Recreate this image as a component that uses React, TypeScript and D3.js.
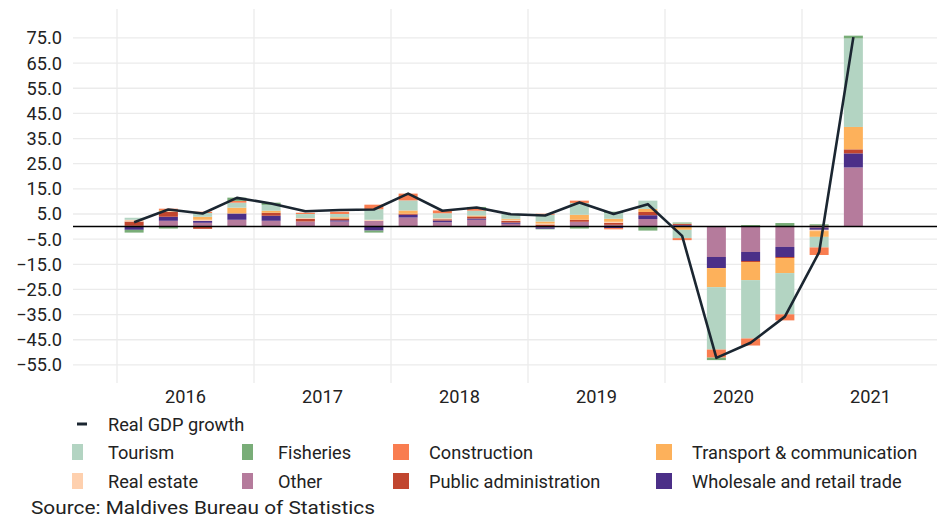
import React from "react";
import * as d3 from "d3";

const quarters = [
  "2016Q1","2016Q2","2016Q3","2016Q4",
  "2017Q1","2017Q2","2017Q3","2017Q4",
  "2018Q1","2018Q2","2018Q3","2018Q4",
  "2019Q1","2019Q2","2019Q3","2019Q4",
  "2020Q1","2020Q2","2020Q3","2020Q4",
  "2021Q1","2021Q2",
];
const years = ["2016", "2017", "2018", "2019", "2020", "2021"];

const other = [0.3, 2.3, 1.5, 2.7, 2.3, 2.0, 2.0, 2.3, 3.6, 1.7, 2.7, 1.1, -0.3, 1.9, 0.7, 3.0, 0.3, -12.1, -10.1, -8.1, -0.6, 23.5];
const wholesale = [-1.3, 1.6, 0.8, 2.5, 2.0, 0, 0.5, -1.6, 1.1, 0.7, 0.5, 0.5, -0.6, 0, -0.6, 1.5, 0.3, -4.4, -3.6, -4.0, -0.7, 5.6];
const publicAdmin = [1.7, 1.9, -0.9, 0, 1.2, 1.1, 0.7, 0, 0.4, 0.5, 0.8, 0.7, 0.8, 0.8, 0.8, 1.3, 0.4, 0, -0.4, -0.4, 0.4, 1.6];
const realEstate = [0.7, 0.3, 0.4, 0, 0, 0.3, 0, 0.4, 0, 0.4, 0, 0.4, 0.4, 0, 0.4, 0, 0.2, 0, 0, 0, -0.5, 0];
const transport = [0, 0.5, 1.2, 2.3, 0.8, 0, 0.5, 0, 1.3, 0, 0.4, 0.4, 0.8, 2.0, 1.2, 1.2, -1.3, -7.6, -7.2, -6.0, -2.3, 8.9];
const tourism = [0.8, 0, 1.5, 2.0, 2.3, 1.6, 1.3, 4.2, 4.0, 2.0, 1.9, 1.9, 2.7, 4.7, 2.3, 3.3, -3.3, -24.8, -23.2, -16.4, -4.2, 35.2];
const construction = [0, 0.5, 0.5, 0.7, 0, 0.5, 0.9, 1.8, 2.7, 1.1, 1.1, 0, 0.4, 0.9, -0.5, 0, -0.8, -3.2, -2.8, -2.4, -3.0, 0];
const fisheries = [-1.1, -0.8, 0, 1.3, 0.9, 0, 0, -0.8, 0, 0, 0.4, 0, -0.2, -0.8, 0.5, -1.6, 0.4, -1.0, 0.6, 1.4, 0.5, 1.1];
const gdp = [1.7, 6.8, 5.2, 11.4, 9.2, 6.1, 6.6, 6.8, 13.1, 6.3, 7.6, 4.9, 4.4, 9.6, 5.0, 8.9, -3.7, -52.2, -46.2, -35.8, -10.2, 75.3];

const yTicks = [75, 65, 55, 45, 35, 25, 15, 5, -5, -15, -25, -35, -45, -55];

const stackKeys = ["Other", "Wholesale and retail trade", "Public administration", "Real estate", "Transport & communication", "Tourism", "Construction", "Fisheries"];
const seriesValues = [other, wholesale, publicAdmin, realEstate, transport, tourism, construction, fisheries];

const legendKeys = ["Tourism", "Fisheries", "Construction", "Transport & communication", "Real estate", "Other", "Public administration", "Wholesale and retail trade"];

const colors: Record<string, string> = {
  "Tourism": "#b3d4c2",
  "Fisheries": "#79ad78",
  "Construction": "#f97d50",
  "Transport & communication": "#fdb15b",
  "Real estate": "#fed0ae",
  "Other": "#b57b9c",
  "Public administration": "#c1462f",
  "Wholesale and retail trade": "#4b2f88",
};

const FONT = "Roboto, 'Noto Sans', sans-serif";
const TXT = "#222";
const FS = 18.2;

export default function App() {
  const W = 942, H = 518;
  const plotLeft = 73, plotRight = 937;
  const x = d3.scaleLinear().domain([0, 24]).range([117, 939]);
  const y = d3.scaleLinear().domain([-62.2, 86.5]).range([383, 9]);
  const barW = 19;

  const rows = quarters.map((q, i) => {
    const r: any = { q, i };
    stackKeys.forEach((k, j) => (r[k] = seriesValues[j][i]));
    return r;
  });
  const stacked = d3.stack<any>().keys(stackKeys).offset(d3.stackOffsetDiverging)(rows);

  const line = d3.line<number>().x((_, i) => x(i + 0.5)).y((v) => y(v));

  const colX = [72, 242, 393, 656];
  const swW = [11, 11, 16, 16];
  const rowY = [452, 481];

  return (
    <svg width={W} height={H} style={{ position: "absolute", left: 0, top: 0, background: "#fff" }} fontFamily={FONT}>
      {yTicks.map((t) => (
        <line key={"h" + t} x1={plotLeft} x2={plotRight} y1={y(t)} y2={y(t)} stroke="#ebebeb" strokeWidth={1.3} />
      ))}
      {years.map((yr, k) => (
        <line key={"v" + yr} x1={x(4 * k)} x2={x(4 * k)} y1={y(86.5)} y2={y(-62.2)} stroke="#ebebeb" strokeWidth={1.3} />
      ))}
      {yTicks.map((t) => (
        <text key={"t" + t} x={62} y={y(t) + 6.5} textAnchor="end" fontSize={FS} fill={TXT}>
          {d3.format(".1f")(t)}
        </text>
      ))}
      {stacked.map((s) => (
        <g key={s.key} fill={colors[s.key]}>
          {s.map((d, i) => {
            const y0 = y(d[0]), y1 = y(d[1]);
            const h = Math.abs(y0 - y1);
            if (h < 0.01) return null;
            return <rect key={i} x={x(i + 0.5) - barW / 2} width={barW} y={Math.min(y0, y1)} height={h} />;
          })}
        </g>
      ))}
      <line x1={plotLeft} x2={plotRight} y1={y(0)} y2={y(0)} stroke="#000" strokeWidth={1.4} />
      <path d={line(gdp) || ""} fill="none" stroke="#1b2631" strokeWidth={2.6} strokeLinejoin="round" />
      {years.map((yr, k) => (
        <text key={"y" + yr} x={x(4 * k + 2)} y={402.5} textAnchor="middle" fontSize={FS} fill={TXT}>
          {yr}
        </text>
      ))}
      <line x1={77} x2={87} y1={424} y2={424} stroke="#1b2631" strokeWidth={3} />
      <text x={108} y={430.5} fontSize={FS} fill={TXT}>Real GDP growth</text>
      {legendKeys.map((k, idx) => {
        const c = idx % 4, r = Math.floor(idx / 4);
        return (
          <g key={"l" + k}>
            <rect x={colX[c]} y={rowY[r] - 8} width={swW[c]} height={16} fill={colors[k]} />
            <text x={colX[c] + 36} y={rowY[r] + 6.5} fontSize={FS} fill={TXT}>{k}</text>
          </g>
        );
      })}
      <text x={31} y={513.5} fontSize={19.2} textLength={344} lengthAdjust="spacingAndGlyphs" fill={TXT}>Source: Maldives Bureau of Statistics</text>
    </svg>
  );
}
